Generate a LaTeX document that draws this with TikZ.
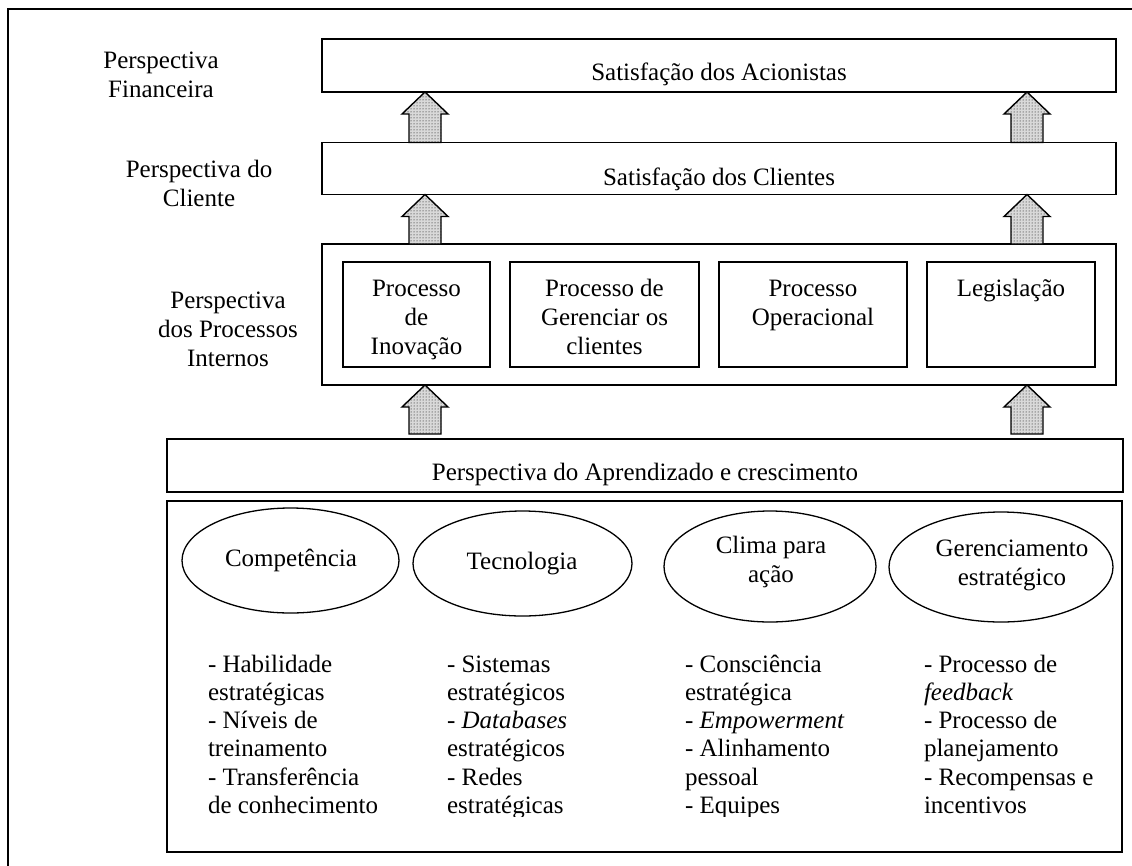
\documentclass[tikz,border=0pt]{standalone}
\usepackage{fontspec}
\setmainfont{Liberation Serif}
\usetikzlibrary{shapes.geometric,calc,patterns}

\tikzset{
  every node/.style={inner sep=0pt, outer sep=0pt},
  txt/.style={font=\fontsize{25}{29}\selectfont},
  box/.style={draw, rectangle, line width=1.6pt, txt},
  lbl/.style={txt, align=center},
  lst/.style={font=\fontsize{25}{28.3}\selectfont, align=left, anchor=north west},
  oval/.style={draw, ellipse, line width=1.3pt},
  blockarrow/.style={draw, line width=1.4pt, line join=miter,
    preaction={fill=gray!30}, pattern=dots, pattern color=black},
}

% hollow upward block arrow: #1 column, #2 lower node, #3 upper node, #4 gap above #2
\newcommand\upblock[4]{%
  \draw[blockarrow]
    ($(#1 |- #2.north)+(-16pt,#4)$) --
    ($(#1 |- #3.south)+(-16pt,-22pt)$) --
    ($(#1 |- #3.south)+(-23pt,-22pt)$) --
    (#1 |- #3.south) --
    ($(#1 |- #3.south)+(23pt,-22pt)$) --
    ($(#1 |- #3.south)+(16pt,-22pt)$) --
    ($(#1 |- #2.north)+(16pt,#4)$) -- cycle;}

\begin{document}
\begin{tikzpicture}[x=1pt, y=-1pt]
\useasboundingbox (0,0) rectangle (1132,865);

% frame
\draw[line width=1.2pt] (8,866) -- (8,9) -- (1133,9);

% perspective labels
\node[lbl, anchor=north] (fin) at (161,47.7) {\strut Perspectiva\\Financeira};
\node[lbl, anchor=north] (cli) at (199,156.7) {\strut Perspectiva do\\Cliente};
\node[lbl, anchor=north] (procL) at (228,287.7) {\strut Perspectiva\\dos Processos\\Internos};

% financial and customer levels
\node[box, minimum width=794pt, minimum height=53pt, text height=41pt, text depth=12pt]
  (acion) at (719,65.5) {Satisfação dos Acionistas};
\node[box, minimum width=794pt, minimum height=52pt, text height=42.5pt, text depth=9.5pt]
  (clientes) at (719,168.5) {Satisfação dos Clientes};

% internal processes
\node[box, minimum width=794pt, minimum height=141pt] (internos) at (719,314.5) {};
\node[box, minimum width=147pt, minimum height=105pt] (inov) at (416.5,314.5) {};
\node[box, minimum width=189pt, minimum height=105pt] (gerc) at (604.5,314.5) {};
\node[box, minimum width=188pt, minimum height=105pt] (oper) at (813,314.5) {};
\node[box, minimum width=168pt, minimum height=105pt] (legis) at (1011,314.5) {};
\node[lbl, anchor=north] (inovT) at ($(inov.north)+(0,-13.7pt)$) {\strut Processo\\de\\Inovação};
\node[lbl, anchor=north] (gercT) at ($(gerc.north)+(0,-13.7pt)$) {\strut Processo de\\Gerenciar os\\clientes};
\node[lbl, anchor=north] (operT) at ($(oper.north)+(0,-13.7pt)$) {\strut Processo\\Operacional};
\node[lbl, anchor=north] (legisT) at ($(legis.north)+(0,-13.7pt)$) {\strut Legislação};

% learning and growth
\node[box, minimum width=956pt, minimum height=53pt, text height=41pt, text depth=12pt]
  (aprend) at (645,465.5) {Perspectiva do Aprendizado e crescimento};
\node[box, minimum width=955pt, minimum height=351pt] (base) at (644.5,676.5) {};

\node[oval, minimum width=217pt, minimum height=105pt] (ell1) at (290.5,560.5) {};
\node[oval, minimum width=219pt, minimum height=105pt] (ell2) at (522.5,563.5) {};
\node[oval, minimum width=212pt, minimum height=111pt] (ell3) at (770,566.5) {};
\node[oval, minimum width=224pt, minimum height=110pt] (ell4) at (1001,567) {};
\node[lbl, anchor=base] (ell1T) at (291,566.5) {Competência};
\node[lbl, anchor=base] (ell2T) at (522,569.5) {Tecnologia};
\node[lbl, anchor=north] (ell3T) at (771,532.7) {\strut Clima para\\ação};
\node[lbl, anchor=north] (ell4T) at (1012,535.7) {\strut Gerenciamento\\estratégico};

\begin{scope}
  \clip (167,501) rectangle (1122,816);
  \node[lst] (list1) at (208,652.2) {\strut - Habilidade\\estratégicas\\- Níveis de\\treinamento\\- Transferência\\de conhecimento};
  \node[lst] (list2) at (447,652.2) {\strut - Sistemas\\estratégicos\\- \textit{Databases}\\estratégicos\\- Redes\\estratégicas};
  \node[lst] (list3) at (685,652.2) {\strut - Consciência\\estratégica\\- \textit{Empowerment}\\- Alinhamento\\pessoal\\- Equipes};
  \node[lst] (list4) at (924,652.2) {\strut - Processo de\\\textit{feedback}\\- Processo de\\planejamento\\- Recompensas e\\incentivos};
\end{scope}

% upward arrows between the levels
\coordinate (colL) at (425,0);
\coordinate (colR) at (1027,0);
\upblock{colL}{clientes}{acion}{0pt}
\upblock{colR}{clientes}{acion}{0pt}
\upblock{colL}{internos}{clientes}{0pt}
\upblock{colR}{internos}{clientes}{0pt}
\upblock{colL}{aprend}{internos}{5pt}
\upblock{colR}{aprend}{internos}{5pt}
\end{tikzpicture}
\end{document}
